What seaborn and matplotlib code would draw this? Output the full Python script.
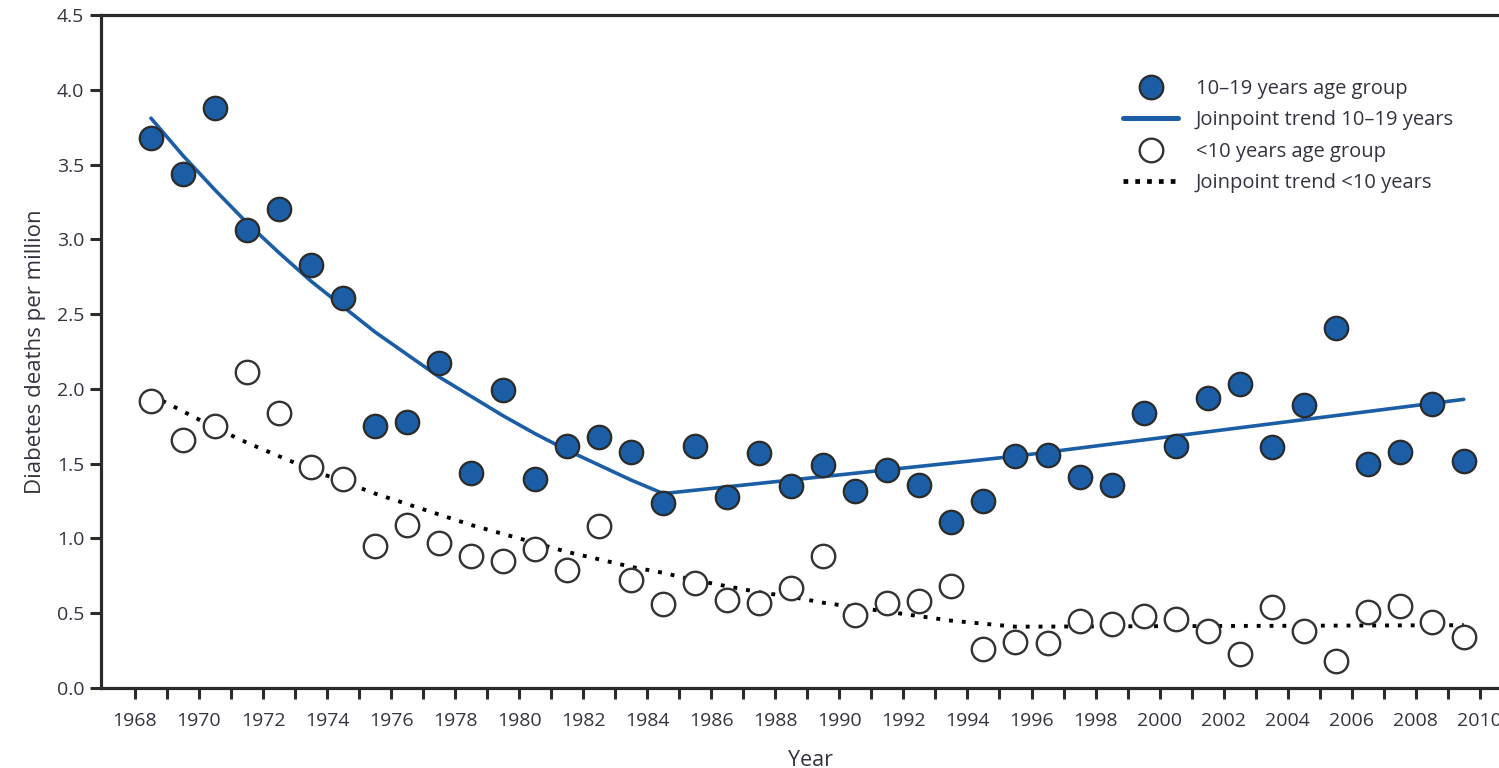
import numpy as np
import matplotlib
matplotlib.use("Agg")
import matplotlib.pyplot as plt
import seaborn as sns
from matplotlib.lines import Line2D
from matplotlib.legend_handler import HandlerLine2D

# Annual diabetes death rates per million, 1968-2009
years = list(range(1968, 2010))
rate_10_19 = [3.68, 3.44, 3.88, 3.06, 3.20, 2.83, 2.61, 1.75, 1.78, 2.17,
              1.44, 1.99, 1.40, 1.62, 1.68, 1.58, 1.24, 1.62, 1.28, 1.57,
              1.35, 1.49, 1.32, 1.46, 1.36, 1.11, 1.25, 1.55, 1.56, 1.41,
              1.36, 1.84, 1.62, 1.94, 2.03, 1.61, 1.89, 2.41, 1.50, 1.58,
              1.90, 1.52]
rate_under_10 = [1.92, 1.66, 1.75, 2.11, 1.84, 1.48, 1.40, 0.95, 1.09, 0.97,
                 0.88, 0.85, 0.93, 0.79, 1.08, 0.72, 0.56, 0.70, 0.59, 0.57,
                 0.67, 0.88, 0.49, 0.57, 0.58, 0.68, 0.26, 0.31, 0.30, 0.45,
                 0.43, 0.48, 0.46, 0.38, 0.23, 0.54, 0.38, 0.18, 0.51, 0.55,
                 0.44, 0.34]

# Joinpoint trend estimates
trend_10_19_years = list(range(1968, 1985)) + [1995, 2009]
trend_10_19 = [3.81, 3.56, 3.33, 3.11, 2.91, 2.72, 2.55, 2.38, 2.23, 2.08,
               1.95, 1.82, 1.70, 1.59, 1.49, 1.39, 1.30, 1.55, 1.93]
trend_under_10_years = list(range(1968, 1996)) + [2009]
trend_under_10 = [1.96, 1.85, 1.74, 1.64, 1.55, 1.46, 1.38, 1.30, 1.23, 1.16,
                  1.09, 1.03, 0.97, 0.91, 0.86, 0.81, 0.77, 0.72, 0.68, 0.64,
                  0.61, 0.57, 0.54, 0.51, 0.48, 0.45, 0.43, 0.41, 0.42]

labels = ["10\u201319 years age group", "Joinpoint trend 10\u201319 years",
          "<10 years age group", "Joinpoint trend <10 years"]
year_ticks = list(range(1968, 2011, 2))

BLUE = "#1B5EA6"
INK = "#2b2b2b"
TEXT = "#333340"

sns.set_theme(style="white")
plt.rcParams["font.family"] = ["Open Sans", "DejaVu Sans"]

fig = plt.figure(figsize=(14.99, 7.68), dpi=100)
ax = fig.add_axes([101 / 1499, 80 / 768, 1 - 101 / 1499, 673 / 768])

# rates are plotted at mid-year
mid = lambda ys: np.asarray(ys, dtype=float) + 0.5

sns.lineplot(x=mid(trend_10_19_years), y=trend_10_19, color=BLUE, lw=2.6,
             ax=ax, zorder=2)
sns.lineplot(x=mid(trend_under_10_years), y=trend_under_10, color="black",
             lw=2.8, linestyle=(0, (1, 2.3)), ax=ax, zorder=2)
sns.scatterplot(x=mid(years), y=rate_10_19, s=285, color=BLUE,
                edgecolor=INK, linewidth=1.6, ax=ax, zorder=3)
sns.scatterplot(x=mid(years), y=rate_under_10, s=285, color="white",
                edgecolor="#333333", linewidth=1.7, ax=ax, zorder=3)

ax.set_xlim(1966.94, 2010.6)
ax.set_ylim(0, 4.5)
ax.set_xticks(year_ticks)
ax.set_xticklabels([str(y) for y in year_ticks])
ax.set_xticks(range(1969, 2011, 2), minor=True)
ax.set_yticks(np.arange(0, 4.51, 0.5))
ax.set_yticklabels([f"{v:.1f}" for v in np.arange(0, 4.51, 0.5)])

for side in ["left", "bottom", "top"]:
    ax.spines[side].set_visible(True)
    ax.spines[side].set_color(INK)
    ax.spines[side].set_linewidth(2.3)
ax.spines["right"].set_visible(False)

ax.tick_params(axis="both", which="both", direction="out", length=8,
               width=2.2, color=INK, labelsize=14, labelcolor=TEXT,
               bottom=True, left=True, top=False, right=False)
ax.tick_params(axis="x", pad=9)
ax.tick_params(axis="y", pad=4)

ax.set_xlabel("Year", fontsize=15.5, color=TEXT, labelpad=12)
ax.xaxis.set_label_coords((810 - 101) / 1398, -0.092)
ax.set_ylabel("Diabetes deaths per million", fontsize=16, color=TEXT,
              labelpad=8)


class RightMarkerHandler(HandlerLine2D):
    """Places a single legend marker at the right end of the handle."""

    def get_xdata(self, legend, xdescent, ydescent, width, height, fontsize):
        xdata, xm = super().get_xdata(legend, xdescent, ydescent, width,
                                      height, fontsize)
        return xdata, [-xdescent + width - 0.55 * fontsize]


handles = [
    Line2D([], [], ls="none", marker="o", markersize=17,
           markerfacecolor=BLUE, markeredgecolor=INK, markeredgewidth=1.6),
    Line2D([], [], color=BLUE, lw=3.6),
    Line2D([], [], ls="none", marker="o", markersize=17,
           markerfacecolor="white", markeredgecolor="#333333",
           markeredgewidth=1.7),
    Line2D([], [], color="black", lw=3.4, ls=(0, (1, 1.5))),
]
leg = ax.legend(handles, labels, loc="upper left",
                bbox_to_anchor=(1123 / 1499, 1 - 79 / 768),
                bbox_transform=fig.transFigure, frameon=False,
                fontsize=14.5, handlelength=2.75, handletextpad=0.85,
                labelspacing=0.57, borderpad=0, borderaxespad=0,
                handler_map={h: RightMarkerHandler(numpoints=1)
                             for h in (handles[0], handles[2])})
for t in leg.get_texts():
    t.set_color(TEXT)

fig.savefig("out.png", dpi=100)
